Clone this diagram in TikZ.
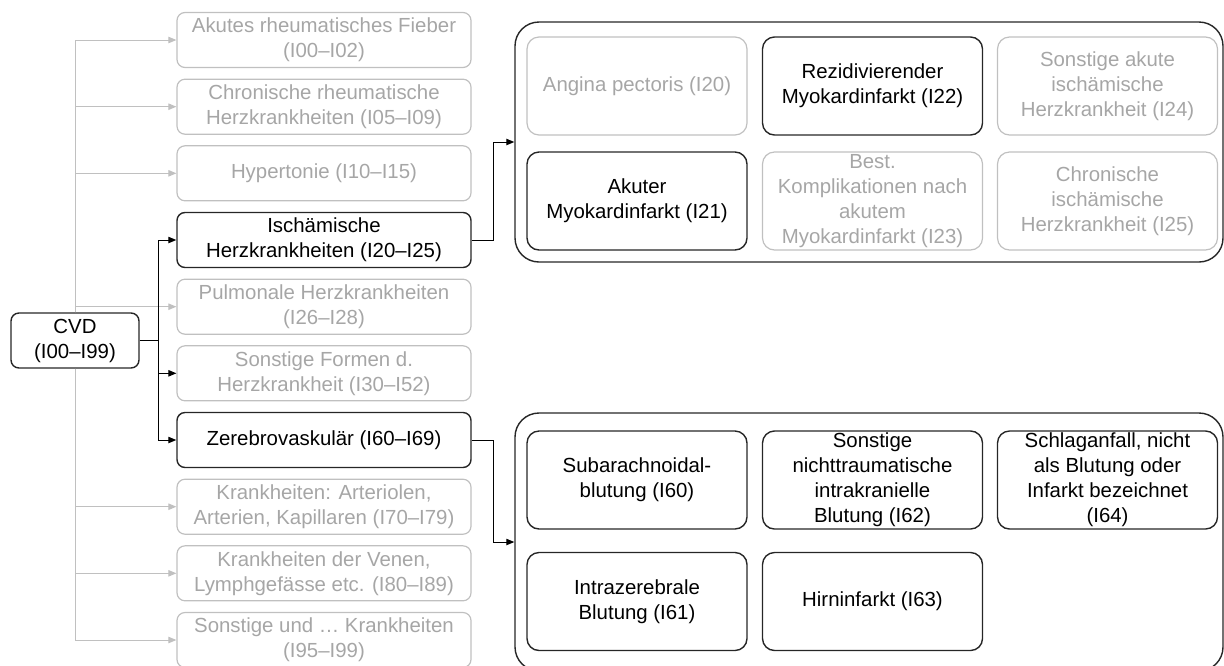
\documentclass[tikz,border=0pt]{standalone}
\usepackage{fontspec}
\setmainfont{Liberation Sans}
\usepackage{xcolor}
\definecolor{cvdInk}{HTML}{262626}
\definecolor{cvdGrey}{HTML}{A6A6A6}
\definecolor{cvdLine}{HTML}{C0C0C0}
\usetikzlibrary{positioning, arrows.meta}

\begin{document}
\begin{tikzpicture}[
  x=0.5pt, y=-0.5pt,
  every node/.style={font=\fontsize{10.2}{12.5}\selectfont, align=center},
  keybox/.style={rectangle, draw=cvdInk, line width=0.7pt, rounded corners=4pt,
                 text=black, inner sep=1pt},
  greybox/.style={keybox, draw=cvdLine, line width=0.6pt, text=cvdGrey},
  leftbox/.style={minimum width=147pt, minimum height=27.5pt},
  subbox/.style={minimum width=110pt, minimum height=49pt, rounded corners=6pt},
  group/.style={rectangle, draw=cvdInk, line width=0.7pt, rounded corners=12pt,
                minimum width=354pt},
  arrow/.style={-{Triangle[length=4pt, width=3.2pt]}, line width=0.5pt, color=black},
  greyarrow/.style={arrow, color=cvdLine},
]
\useasboundingbox (0,0) rectangle (1224,665);

% Root
\node[keybox, minimum width=64pt, minimum height=27.5pt] (cvd) at (75,340.5)
      {CVD\\(I00--I99)};

% Categories
\node[greybox, leftbox] (akut)  at (324,40)    {Akutes rheumatisches Fieber\\(I00--I02)};
\node[greybox, leftbox] (chron) at (324,106.7) {Chronische rheumatische\\Herzkrankheiten (I05--I09)};
\node[greybox, leftbox] (hyper) at (324,173.3) {Hypertonie (I10--I15)};
\node[keybox,  leftbox] (isch)  at (324,240)   {Ischämische\\Herzkrankheiten (I20--I25)};
\node[greybox, leftbox] (pulm)  at (324,306.7) {Pulmonale Herzkrankheiten\\(I26--I28)};
\node[greybox, leftbox] (sform) at (324,373.3) {Sonstige Formen d.\\Herzkrankheit (I30--I52)};
\node[keybox,  leftbox] (zere)  at (324,440)   {Zerebrovaskulär (I60--I69)};
\node[greybox, leftbox] (arter) at (324,506.7) {Krankheiten: Arteriolen,\\Arterien, Kapillaren (I70--I79)};
\node[greybox, leftbox] (venen) at (324,573.3) {Krankheiten der Venen,\\Lymphgefässe etc. (I80--I89)};
\node[greybox, leftbox] (sonst) at (324,640)   {Sonstige und \dots\ Krankheiten\\(I95--I99)};

% Ischaemic group
\node[group, minimum height=120pt] (ihk) at (869,142) {};
\node[greybox, subbox] (i20) at (637,86)     {Angina pectoris (I20)};
\node[keybox,  subbox] (i22) at (872.5,86)   {Rezidivierender\\Myokardinfarkt (I22)};
\node[greybox, subbox] (i24) at (1107.5,86)  {Sonstige akute\\ischämische\\Herzkrankheit (I24)};
\node[keybox,  subbox] (i21) at (637,201)    {Akuter\\Myokardinfarkt (I21)};
\node[greybox, subbox] (i23) at (872.5,201)  {Best.\\Komplikationen nach\\akutem\\Myokardinfarkt (I23)};
\node[greybox, subbox] (i25) at (1107.5,201) {Chronische\\ischämische\\Herzkrankheit (I25)};

% Cerebrovascular group
\node[group, minimum height=129pt] (zvk) at (869,542) {};
\node[keybox, subbox] (i60) at (637,480)     {Subarachnoidal-\\blutung (I60)};
\node[keybox, subbox] (i62) at (872.5,480)   {Sonstige\\nichttraumatische\\intrakranielle\\Blutung (I62)};
\node[keybox, subbox] (i64) at (1107.5,480)  {Schlaganfall, nicht\\als Blutung oder\\Infarkt bezeichnet\\(I64)};
\node[keybox, subbox] (i61) at (637,601.5)   {Intrazerebrale\\Blutung (I61)};
\node[keybox, subbox] (i63) at (872.5,601.5) {Hirninfarkt (I63)};

% Arrows
\coordinate (split) at (158,340.5);
\foreach \n in {akut, chron, hyper, pulm}
  \draw[greyarrow] (cvd.north) |- (\n.west);
\foreach \n in {arter, venen, sonst}
  \draw[greyarrow] (cvd.south) |- (\n.west);
\draw[line width=0.5pt] (cvd.east) -- (split);
\foreach \n in {isch, sform, zere}
  \draw[arrow] (split) |- (\n.west);
\draw[arrow] (isch.east) -- ++(22,0) |- (ihk.west);
\draw[arrow] (zere.east) -- ++(22,0) |- (zvk.west);

\end{tikzpicture}
\end{document}
